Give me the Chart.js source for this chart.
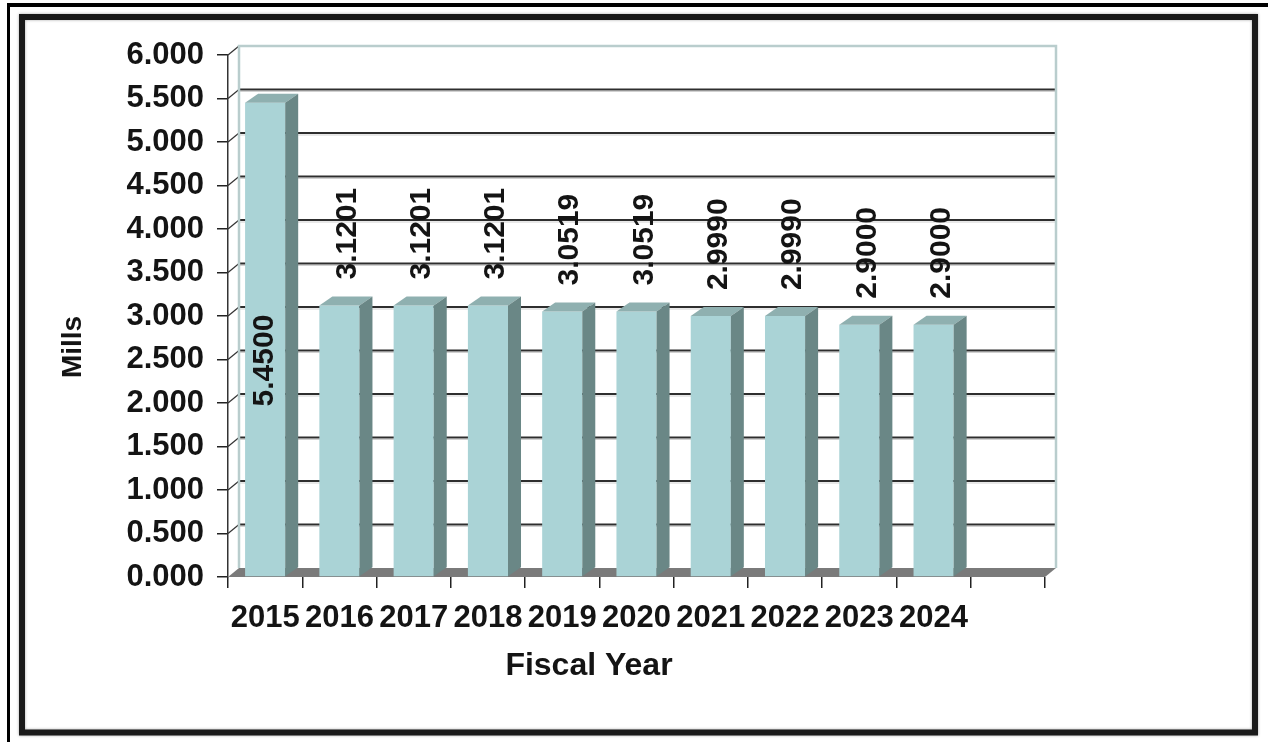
<!DOCTYPE html>
<html><head><meta charset="utf-8">
<script src="https://cdn.jsdelivr.net/npm/chart.js@4.4.1/dist/chart.umd.min.js"></script>
<style>html,body{margin:0;padding:0;background:#fff;overflow:hidden}canvas{display:block}</style>
</head><body>
<canvas id="c" width="1268" height="742"></canvas>
<script>
// ---- data ----
const categories = ['2015','2016','2017','2018','2019','2020','2021','2022','2023','2024',''];
const millRates = [5.45, 3.1201, 3.1201, 3.1201, 3.0519, 3.0519, 2.999, 2.999, 2.9, 2.9, null];
const rateLabels = ['5.4500','3.1201','3.1201','3.1201','3.0519','3.0519','2.9990','2.9990','2.9000','2.9000',''];
const yMin = 0, yMax = 6, yStep = 0.5;
const yTitle = 'Mills';
const xTitle = 'Fiscal Year';

// ---- styles ----
const FONT = 'Liberation Sans, Arial, Helvetica, sans-serif';
const INK = '#141414';
const FRONT = '#aad3d6', SIDE = '#6a8786', TOP = '#8fb0b0';
const FLOOR = '#7a7a7a', WALL = '#b9cdcd', GRID = '#2e2e2e';
const WDX = 11, WDY = 9;   // wall depth offset
const BDX = 13, BDY = 9;   // bar depth offset

const threeD = {
  id: 'threeD',
  beforeDraw(chart) {
    const ctx = chart.ctx;
    ctx.save();
    ctx.fillStyle = '#fff';
    ctx.fillRect(0, 0, chart.width, chart.height);
    ctx.fillStyle = '#000';
    ctx.fillRect(7, 3, chart.width - 7, 4);
    ctx.fillRect(7, 3, 3, chart.height - 3);
    ctx.shadowColor = 'rgba(0,0,0,0.35)';
    ctx.shadowBlur = 3;
    ctx.strokeStyle = '#1a1a1a';
    ctx.lineWidth = 6;
    ctx.strokeRect(22, 17, 1233, 715.5);
    ctx.restore();
  },
  beforeDatasetsDraw(chart) {
    const ctx = chart.ctx, ca = chart.chartArea, ys = chart.scales.y;
    const bl = ca.left + WDX, br = ca.right + WDX;
    const wTop = ys.getPixelForValue(yMax) - WDY;
    const wBot = ys.getPixelForValue(yMin) - WDY;
    ctx.save();
    for (let v = yMin + yStep; v < yMax - 1e-9; v += yStep) {
      const yb = ys.getPixelForValue(v) - WDY;
      ctx.strokeStyle = GRID; ctx.lineWidth = 2;
      ctx.beginPath(); ctx.moveTo(bl, yb); ctx.lineTo(br, yb); ctx.stroke();
      ctx.strokeStyle = 'rgba(0,0,0,0.18)'; ctx.lineWidth = 1;
      ctx.beginPath(); ctx.moveTo(bl, yb + 2); ctx.lineTo(br, yb + 2); ctx.stroke();
    }
    for (let v = yMin + yStep; v <= yMax + 1e-9; v += yStep) {
      const yf = ys.getPixelForValue(v);
      ctx.strokeStyle = '#333'; ctx.lineWidth = 1.2;
      ctx.beginPath(); ctx.moveTo(ca.left, yf); ctx.lineTo(bl, yf - WDY); ctx.stroke();
    }
    ctx.strokeStyle = WALL; ctx.lineWidth = 2.5;
    ctx.beginPath();
    ctx.moveTo(bl, wBot); ctx.lineTo(bl, wTop); ctx.lineTo(br, wTop); ctx.lineTo(br, wBot);
    ctx.stroke();
    const yz = ys.getPixelForValue(yMin);
    ctx.fillStyle = FLOOR;
    ctx.beginPath();
    ctx.moveTo(ca.left, yz); ctx.lineTo(ca.right, yz);
    ctx.lineTo(br, yz - WDY); ctx.lineTo(bl, yz - WDY);
    ctx.closePath(); ctx.fill();
    ctx.restore();
  },
  afterDatasetsDraw(chart) {
    const ctx = chart.ctx;
    const meta = chart.getDatasetMeta(0);
    ctx.save();
    meta.data.forEach((el, i) => {
      if (millRates[i] == null) return;
      const p = el.getProps(['x', 'y', 'base', 'width'], true);
      const l = p.x - p.width / 2, r = p.x + p.width / 2, t = p.y, b = p.base;
      ctx.fillStyle = TOP;
      ctx.beginPath();
      ctx.moveTo(l, t); ctx.lineTo(l + BDX, t - BDY); ctx.lineTo(r + BDX, t - BDY); ctx.lineTo(r, t);
      ctx.closePath(); ctx.fill();
      ctx.fillStyle = SIDE;
      ctx.beginPath();
      ctx.moveTo(r, t); ctx.lineTo(r + BDX, t - BDY); ctx.lineTo(r + BDX, b - BDY); ctx.lineTo(r, b);
      ctx.closePath(); ctx.fill();
    });
    ctx.fillStyle = INK;
    ctx.font = 'bold 30px ' + FONT;
    ctx.textBaseline = 'middle';
    meta.data.forEach((el, i) => {
      if (millRates[i] == null) return;
      const p = el.getProps(['x', 'y', 'base'], true);
      ctx.save();
      if (i === 0) {
        ctx.translate(p.x, (p.y + p.base) / 2 + 21);
        ctx.rotate(-Math.PI / 2);
        ctx.textAlign = 'center';
      } else {
        ctx.translate(p.x + 8, p.y - 26);
        ctx.rotate(-Math.PI / 2);
        ctx.textAlign = 'left';
      }
      ctx.fillText(rateLabels[i], 0, 0);
      ctx.restore();
    });
    ctx.textAlign = 'center';
    ctx.font = 'bold 28px ' + FONT;
    ctx.save();
    ctx.translate(73, 347); ctx.rotate(-Math.PI / 2);
    ctx.fillText(yTitle, 0, 0);
    ctx.restore();
    ctx.font = 'bold 32px ' + FONT;
    ctx.fillText(xTitle, 589, 666);
    ctx.restore();
  }
};

new Chart(document.getElementById('c'), {
  type: 'bar',
  data: {
    labels: categories,
    datasets: [{
      data: millRates,
      backgroundColor: FRONT,
      borderWidth: 0,
      barPercentage: 0.54,
      categoryPercentage: 1.0
    }]
  },
  options: {
    responsive: false,
    animation: false,
    events: [],
    layout: { padding: { top: 55, right: 223, left: 0, bottom: 0 } },
    plugins: { legend: { display: false }, tooltip: { enabled: false } },
    scales: {
      x: {
        type: 'category',
        offset: true,
        grid: { offset: true, drawOnChartArea: false, drawTicks: true, tickLength: 11, color: '#222', lineWidth: 1.5 },
        border: { display: false },
        ticks: { font: { family: FONT, size: 31, weight: 'bold' }, color: INK, padding: 12, maxRotation: 0, autoSkip: false },
        afterFit(s) { s.height = 165; }
      },
      y: {
        min: yMin, max: yMax,
        grid: { drawOnChartArea: false, drawTicks: true, tickLength: 11, color: '#222', lineWidth: 1.5 },
        border: { display: true, color: '#333', width: 1.5 },
        ticks: { stepSize: yStep, callback: v => Number(v).toFixed(3), font: { family: FONT, size: 31, weight: 'bold' }, color: INK, padding: 13 },
        afterFit(s) { s.width = 228; }
      }
    }
  },
  plugins: [threeD]
});
</script>
</body></html>
